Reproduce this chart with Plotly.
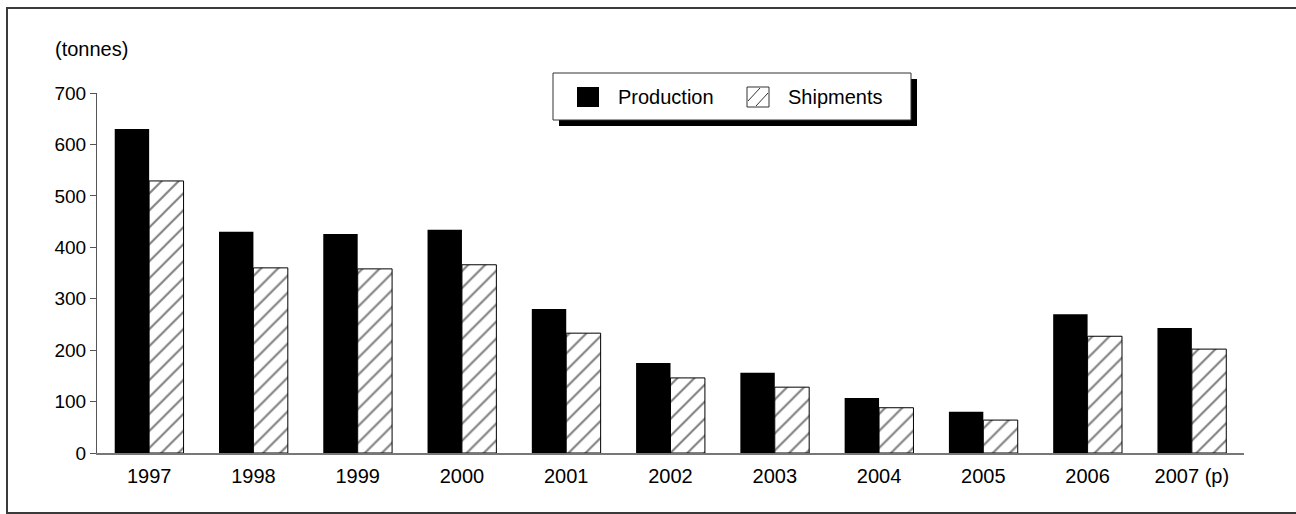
import plotly.graph_objects as go

# Annual production and shipments, in tonnes
years = ["1997", "1998", "1999", "2000", "2001", "2002", "2003", "2004", "2005", "2006", "2007 (p)"]
production = [630, 430, 426, 434, 280, 175, 156, 107, 80, 270, 243]
shipments = [529, 360, 358, 366, 233, 146, 128, 88, 64, 227, 202]

FONT = "Liberation Sans, Arial, sans-serif"

# plot-area geometry in pixels, used to place paper-referenced decorations
W, H = 1296, 514
L, R, T, B = 97, 52, 93, 61
PW, PH = W - L - R, H - T - B


def px(x):
    return (x - L) / PW


def py(y):
    return (H - B - y) / PH


fig = go.Figure()
fig.add_trace(go.Bar(
    x=years, y=production, name="Production",
    marker=dict(color="black", line=dict(width=0)),
))
fig.add_trace(go.Bar(
    x=years, y=shipments, name="Shipments",
    marker=dict(
        color="white",
        line=dict(color="black", width=1),
        pattern=dict(shape="/", fgcolor="black", bgcolor="white", size=12, solidity=0.17),
    ),
))

shapes = []
# outer frame
shapes.append(dict(type="rect", xref="paper", yref="paper",
                   x0=px(7), x1=px(1302), y0=py(513), y1=py(8),
                   line=dict(color="#3a3a3a", width=2), fillcolor="rgba(0,0,0,0)", layer="below"))
# legend shadow and box
shapes.append(dict(type="rect", xref="paper", yref="paper",
                   x0=px(559), x1=px(917), y0=py(126), y1=py(79),
                   line=dict(width=0), fillcolor="black"))
shapes.append(dict(type="rect", xref="paper", yref="paper",
                   x0=px(553), x1=px(911), y0=py(120), y1=py(73),
                   line=dict(color="#333333", width=1), fillcolor="white"))
# legend symbols
shapes.append(dict(type="rect", xref="paper", yref="paper",
                   x0=px(577), x1=px(599), y0=py(107), y1=py(87),
                   line=dict(width=0), fillcolor="black"))
shapes.append(dict(type="rect", xref="paper", yref="paper",
                   x0=px(747), x1=px(769), y0=py(107), y1=py(87),
                   line=dict(color="#333333", width=1), fillcolor="white"))
shapes.append(dict(type="line", xref="paper", yref="paper",
                   x0=px(748), x1=px(760), y0=py(101), y1=py(88),
                   line=dict(color="#333333", width=1)))
shapes.append(dict(type="line", xref="paper", yref="paper",
                   x0=px(756), x1=px(768), y0=py(106), y1=py(93),
                   line=dict(color="#333333", width=1)))

annotations = [
    dict(text="(tonnes)", xref="paper", yref="paper", x=px(53), y=py(49),
         xanchor="left", yanchor="middle", showarrow=False,
         font=dict(family=FONT, size=20, color="black")),
    dict(text="Production", xref="paper", yref="paper", x=px(616), y=py(97),
         xanchor="left", yanchor="middle", showarrow=False,
         font=dict(family=FONT, size=20, color="black")),
    dict(text="Shipments", xref="paper", yref="paper", x=px(786), y=py(97),
         xanchor="left", yanchor="middle", showarrow=False,
         font=dict(family=FONT, size=20, color="black")),
]

fig.update_layout(
    width=W, height=H,
    margin=dict(l=L, r=R, t=T, b=B, pad=0),
    paper_bgcolor="white", plot_bgcolor="white",
    barmode="group", bargap=0.34, bargroupgap=0,
    showlegend=False,
    font=dict(family=FONT, size=20, color="black"),
    shapes=shapes, annotations=annotations,
)
fig.update_xaxes(
    showline=True, linecolor="#777777", linewidth=2,
    ticks="", showgrid=False, zeroline=False,
    tickfont=dict(size=20), ticklabelstandoff=4,
)
fig.update_yaxes(
    range=[0, 700], dtick=100, showline=True, linecolor="#555555", linewidth=1,
    ticks="outside", ticklen=6, tickcolor="#555555",
    showgrid=False, zeroline=False, tickfont=dict(size=19),
)

fig.write_html("out.html")
